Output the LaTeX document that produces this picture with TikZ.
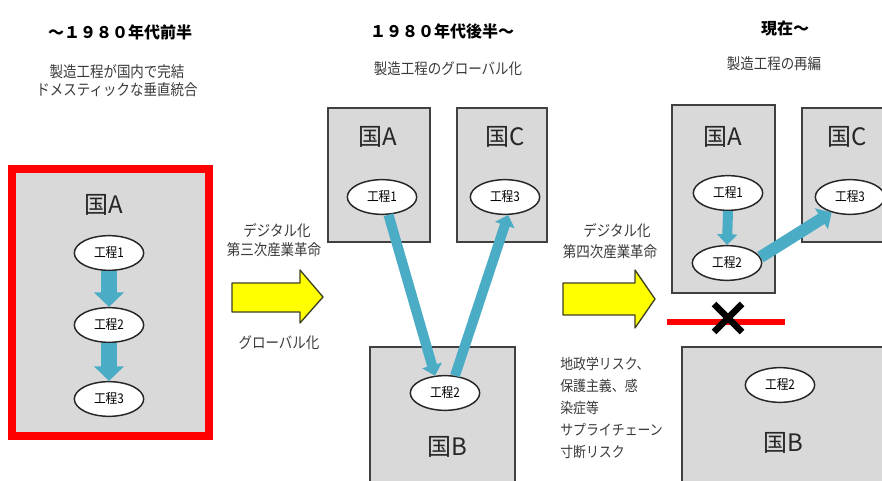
\documentclass[tikz,border=0pt]{standalone}
\usepackage{fontspec}
\setmainfont{Noto Sans CJK JP}
\newfontfamily\jpnarrow[FakeStretch=0.88]{Noto Sans CJK JP}
\usetikzlibrary{arrows.meta, shapes.geometric, fit}

\definecolor{boxgray}{HTML}{D9D9D9}
\definecolor{boxline}{HTML}{404040}
\definecolor{flowblue}{HTML}{4BACC6}
\definecolor{textgray}{HTML}{3A3A3A}
\definecolor{shiftyellow}{HTML}{FFFF00}
\definecolor{shiftline}{HTML}{3F3F22}

\tikzset{
  land/.style={draw=boxline, fill=boxgray, line width=0.8pt, inner sep=0pt},
  landname/.style={font=\fontsize{18}{18}\selectfont, text=black!85},
  proc/.style={ellipse, draw=black!85, fill=white, line width=1.1pt,
    minimum width=52pt, minimum height=26pt, inner sep=0pt,
    font=\jpnarrow\fontsize{10}{10}\selectfont},
  bigflow/.style={draw=flowblue, line width=12pt, -{Triangle[width=22pt, length=11pt]}},
  flow/.style={draw=flowblue, line width=7.5pt, -{Triangle[width=15pt, length=8pt]}},
  era/.style={font=\fontsize{12}{12}\selectfont\bfseries},
  note/.style={font=\jpnarrow\fontsize{11.5}{13.5}\selectfont, text=textgray, align=center, inner sep=0pt},
  shiftarrow/.style={draw=shiftline, fill=shiftyellow, line width=1pt, line join=round}
}

\begin{document}
\begin{tikzpicture}[x=0.75pt, y=-0.75pt, line cap=butt]

    % Frame
    \clip (0,0) rectangle (882,481);
    \fill[white] (0,0) rectangle (882,481);

    % Titles
    \node[era] (era1) at (120,32) {～１９８０年代前半};
    \node[era] (era2) at (442,31) {１９８０年代後半～};
    \node[era] (era3) at (785,28) {現在～};
    \node[note] (sub1) at (117,81) {製造工程が国内で完結\\ドメスティックな垂直統合};
    \node[note] (sub2) at (448,69) {製造工程のグローバル化};
    \node[note] (sub3) at (774,64) {製造工程の再編};

    % Before 1980s: one country
    \node[land, draw=red, line width=6pt, fit={(12,169) (209,436)}] (lbox) {};
    \node[landname] (lA) at (104,205) {国A};
    \node[proc] (l1) at (109,253) {工程1};
    \node[proc] (l2) at (109,325) {工程2};
    \node[proc] (l3) at (109,399) {工程3};
    \draw[bigflow] (l1.south) -- (l2.north);
    \draw[bigflow] (l2.south) -- (l3.north);

    % Shift 1
    \draw[shiftarrow] (232,283) -- (300,283) -- (300,270) -- (323,297)
        -- (300,323) -- (300,312) -- (232,312) -- cycle;
    \node[note] (dx1) at (277,231) {デジタル化};
    \node[note] (ir3) at (274,250) {第三次産業革命};
    \node[note] (glob) at (279,343) {グローバル化};

    % After 1980s: global
    \node[land, fit={(328,108) (430,242)}] (gAbox) {};
    \node[land, fit={(457,108) (547,242)}] (gCbox) {};
    \node[land, fit={(370,347) (515,495)}] (gBbox) {};
    \node[landname] (gA) at (378,137) {国A};
    \node[landname] (gC) at (505,137) {国C};
    \node[landname] (gB) at (447,447) {国B};
    \node[proc] (g1) at (382,197) {工程1};
    \node[proc] (g3) at (505,197) {工程3};
    \node[proc] (g2) at (445,393) {工程2};
    \draw[flow] (g1.-70) -- (g2.120);
    \draw[flow] (g2.60) -- (g3.-80);

    % Shift 2
    \draw[shiftarrow] (563,283) -- (635,283) -- (635,270) -- (655,299)
        -- (635,328) -- (635,315) -- (563,315) -- cycle;
    \node[note] (dx2) at (617,231) {デジタル化};
    \node[note] (ir4) at (610,252) {第四次産業革命};
    \node[note, anchor=north west, align=left, font=\jpnarrow\fontsize{11}{16.5}\selectfont]
        (risk) at (560,357) {地政学リスク、\\保護主義、感\\染症等\\サプライチェーン\\寸断リスク};

    % Now: reorganized
    \node[land, fit={(672,105) (775,293)}] (rAbox) {};
    \node[land, fit={(802,108) (900,242)}] (rCbox) {};
    \node[land, fit={(682,347) (900,495)}] (rBbox) {};
    \node[landname] (rA) at (723,137) {国A};
    \node[landname] (rC) at (847,137) {国C};
    \node[landname] (rB) at (783,443) {国B};
    \node[proc] (r1) at (728,193) {工程1};
    \node[proc] (r2) at (727,263) {工程2};
    \node[proc] (r3) at (850,197) {工程3};
    \node[proc] (rb2) at (780,385) {工程2};
    \draw[flow] (r1.south) -- (r2.north);
    \draw[flow, line width=9pt, -{Triangle[width=18pt, length=9pt]}] (r2.10) -- (r3.-140);

    % Broken link
    \coordinate (cut) at (728,318);
    \draw[red, line width=4pt] (667,322) -- (785,322);
    \draw[black, line width=5pt] (cut) ++(-14,-14) -- ++(28,28);
    \draw[black, line width=5pt] (cut) ++(14,-14) -- ++(-28,28);

\end{tikzpicture}
\end{document}
